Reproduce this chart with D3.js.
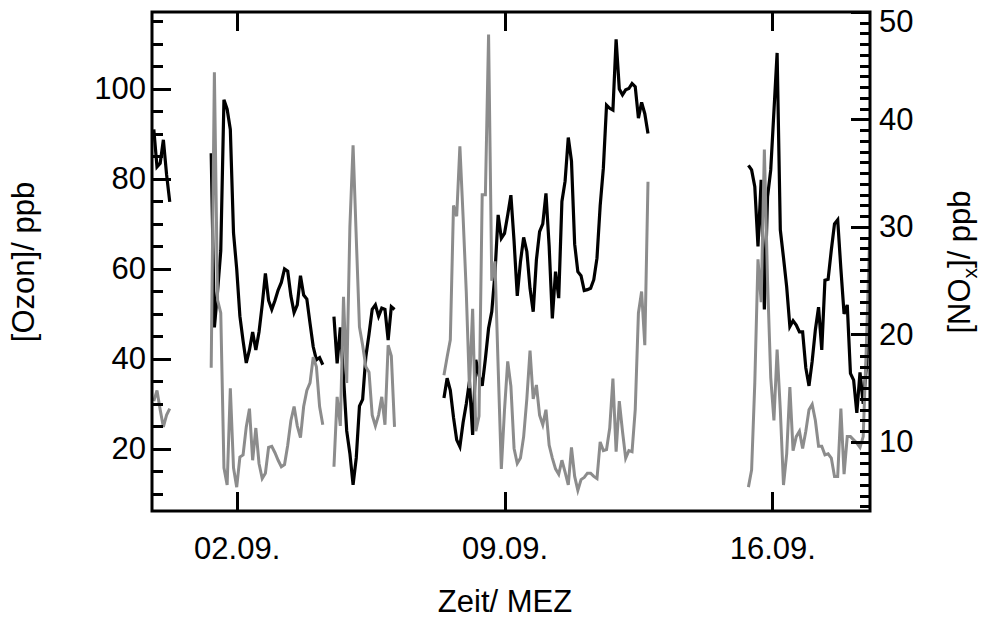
<!DOCTYPE html>
<html>
<head>
<meta charset="utf-8">
<script src="https://cdn.jsdelivr.net/npm/d3@7"></script>
<style>
body { margin: 0; background: #fff; }
</style>
</head>
<body>
<div id="chart"></div>
<script>
// 2-hourly values, five measurement blocks with gaps between them
const blockStart = ["2000-08-30T20:00", "2000-09-01T08:00", "2000-09-04T13:00", "2000-09-07T10:00", "2000-09-15T09:00"];
const stepHours = 2;

// ozone in ppb (left axis)
const ozone = [
    [91, 82.7, 83.5, 88.7, 81, 74.9],
    [85.7, 47, 55, 64, 97.6, 95.5, 91, 68, 60, 49.5, 44, 39.1, 42, 46, 42, 46, 52, 59, 53, 51,
     53, 55.3, 57, 60, 59.5, 54, 50.3, 52, 58.5, 54.2, 53.3, 47.9, 42.7, 39.8, 40.3, 38.7],
    [49.4, 39, 47, 36, 24, 19, 12, 18, 29.5, 31, 40.5, 45.5, 51, 52, 49.5, 51.3, 51, 44.2, 51.6, 51],
    [31.3, 35.7, 33, 27, 22, 20.5, 25.8, 30, 35, 23.1, 39.8, 36.4, 34, 40, 46.8, 50.5, 59, 72, 66.8, 67.9,
     72, 76.4, 66.1, 54, 61.6, 67, 63.9, 55.7, 50.5, 62, 68.3, 70, 76.8, 65, 49, 59.4, 53.5, 75, 79.5, 89.2,
     84, 65.5, 59.4, 58.5, 55.2, 55.4, 55.7, 57.6, 62.4, 74, 82.4, 96.4, 95.7, 95.3, 111, 100, 98.7, 99.8, 100.1, 101.2,
     100.5, 93.5, 97, 94.5, 90.1],
    [83, 82, 78.3, 65, 79.8, 51, 76, 82, 95, 108, 68.7, 62.5, 56, 47.2, 48.5, 47.5, 46, 46, 38, 34,
     39.5, 46.5, 51.5, 42, 57.5, 57.7, 64.2, 70, 70.9, 60, 50, 52, 36.8, 35.3, 28, 37, 30, 38.3, 55.3]
];

// NOx in ppb (right axis)
const nox = [
    [13.8, 14.8, 13, 11.4, 12.5, 13.1],
    [16.9, 44.4, 23.2, 22, 7.6, 6, 15, 7.6, 5.8, 8.6, 8.8, 11.4, 13.1, 8.3, 11.3, 8, 6.6, 7.1, 9.5, 9.6,
     9, 8.3, 7.7, 7.9, 9.7, 12, 13.3, 11.5, 10.4, 13.3, 14.8, 15.5, 17.9, 17, 13.3, 11.6],
    [7.7, 14.2, 11.5, 23.5, 15.5, 30, 37.6, 29, 20.7, 19, 17, 16.5, 12.5, 11.5, 12.5, 14.2, 11.6, 19, 18, 11.4],
    [16.2, 17.9, 19.5, 32, 31, 37.5, 31, 24, 15, 22.4, 11, 12.4, 33, 33, 47.9, 25, 26.8, 17, 7.5, 13,
     17.5, 15.2, 9.4, 8, 8.5, 10.5, 14, 18.5, 14, 15.3, 12.5, 11.6, 13, 9.7, 8.5, 7.5, 7, 8.3, 7.2, 6,
     9.5, 6.8, 5.5, 6.5, 6.7, 7.1, 7.1, 6.8, 6.6, 10, 9.2, 9.3, 11.3, 15.9, 9.1, 13.8, 11, 8.5, 9.2, 9.1,
     13, 22, 24, 19, 34.2],
    [5.8, 7.4, 15.5, 27, 23, 37.2, 25, 16, 12, 18.6, 13, 6, 8.9, 15.1, 9.2, 10.5, 11, 9.4, 11, 13,
     13.5, 12, 9.6, 9.6, 8.8, 8.9, 8.5, 6.8, 6.8, 13.1, 7, 10.5, 10.5, 10.2, 9.9, 9.5, 10.5, 19, 28.8]
];

const timeRange = ["2000-08-30T18:52", "2000-09-18T13:16"];
const dateTicks = ["2000-09-02T00:00", "2000-09-09T00:00", "2000-09-16T00:00"];
const ozoneTicks = [20, 40, 60, 80, 100];
const ozoneMinor = d3.range(10, 116, 5);
const noxTicks = [10, 20, 30, 40, 50];
const noxMinor = d3.range(4, 51, 1);

const font = "'Liberation Sans', Arial, sans-serif";
const grey = "#8c8c8c";

var dimension = {
    width: 981,
    height: 619,
    margin: { top: 12, left: 152, bottom: 108, right: 111 }
};
dimension.boundedWidth = dimension.width - dimension.margin.left - dimension.margin.right
dimension.boundedHeight = dimension.height - dimension.margin.top - dimension.margin.bottom
const W = dimension.boundedWidth, H = dimension.boundedHeight;

const parse = d3.timeParse("%Y-%m-%dT%H:%M");

const wrapper = d3.select("#chart")
    .append("svg")
    .attr("width", dimension.width)
    .attr("height", dimension.height);

const bounds = wrapper.append("g")
    .attr("transform", `translate(${dimension.margin.left},${dimension.margin.top})`);

const xScaler = d3.scaleTime()
    .domain(timeRange.map(parse))
    .range([0, W]);

const yOzone = d3.scaleLinear()
    .domain([6.2, 117.1])
    .range([H, 0]);

const yNox = d3.scaleLinear()
    .domain([3.58, 50])
    .range([H, 0]);

bounds.append("clipPath").attr("id", "plotclip")
    .append("rect")
    .attr("width", W)
    .attr("height", H);

// series -> points
function toPoints(values, start) {
    const t0 = parse(start);
    return values.map((v, i) => ({ t: d3.timeHour.offset(t0, i * stepHours), v: v }));
}

const ozoneLine = d3.line().x(d => xScaler(d.t)).y(d => yOzone(d.v));
const noxLine = d3.line().x(d => xScaler(d.t)).y(d => yNox(d.v));

const plot = bounds.append("g").attr("clip-path", "url(#plotclip)");

plot.selectAll(".ozone")
    .data(ozone.map((vals, i) => toPoints(vals, blockStart[i])))
    .enter()
    .append("path")
    .attr("class", "ozone")
    .attr("d", ozoneLine)
    .attr("fill", "none")
    .attr("stroke", "black")
    .attr("stroke-width", 3.2);

plot.selectAll(".nox")
    .data(nox.map((vals, i) => toPoints(vals, blockStart[i])))
    .enter()
    .append("path")
    .attr("class", "nox")
    .attr("d", noxLine)
    .attr("fill", "none")
    .attr("stroke", grey)
    .attr("stroke-width", 3);

// inward tick marks, snapped to whole pixels
const tickW = 3;
function hTicks(values, scale, x0, len) {
    bounds.append("g")
        .selectAll("rect")
        .data(values)
        .enter()
        .append("rect")
        .attr("x", len > 0 ? x0 : x0 + len)
        .attr("y", d => Math.round(scale(d)) - 1)
        .attr("width", Math.abs(len))
        .attr("height", tickW)
        .attr("fill", "#000")
        .attr("shape-rendering", "crispEdges");
}
function vTicks(values, y0, len) {
    bounds.append("g")
        .selectAll("rect")
        .data(values)
        .enter()
        .append("rect")
        .attr("x", d => Math.round(xScaler(d)) - 1)
        .attr("y", len > 0 ? y0 : y0 + len)
        .attr("width", tickW)
        .attr("height", Math.abs(len))
        .attr("fill", "#000")
        .attr("shape-rendering", "crispEdges");
}

hTicks(ozoneMinor, yOzone, 0, 11);
hTicks(ozoneTicks, yOzone, 0, 19);
hTicks(noxMinor, yNox, W, -10);
hTicks(noxTicks, yNox, W, -19);
vTicks(dateTicks.map(parse), 0, 19);
vTicks(dateTicks.map(parse), H, -19);

// tick labels from d3 axes
function styleAxis(g) {
    g.select(".domain").remove();
    g.selectAll(".tick line").remove();
    g.attr("font-size", 31).attr("font-family", font);
    g.selectAll(".tick text").attr("fill", "black");
}

bounds.append("g")
    .call(d3.axisLeft(yOzone).tickValues(ozoneTicks).tickSize(0).tickPadding(6))
    .call(styleAxis);

const noxAxis = bounds.append("g")
    .attr("transform", `translate(${W},0)`)
    .call(d3.axisRight(yNox).tickValues(noxTicks).tickSize(0).tickPadding(9))
    .call(styleAxis);
// top label sits inside the frame
noxAxis.selectAll(".tick text").filter(d => d === 50).attr("dy", "0.62em");

bounds.append("g")
    .attr("transform", `translate(0,${H})`)
    .call(d3.axisBottom(xScaler).tickValues(dateTicks.map(parse)).tickSize(0).tickPadding(26)
        .tickFormat(d3.timeFormat("%d.%m.")))
    .call(styleAxis);

bounds.append("rect")
    .attr("width", W)
    .attr("height", H)
    .attr("fill", "none")
    .attr("stroke", "black")
    .attr("stroke-width", 3);

// titles
wrapper.append("text")
    .attr("x", 505)
    .attr("y", 612)
    .attr("text-anchor", "middle")
    .attr("font-family", font)
    .attr("font-size", 31)
    .text("Zeit/ MEZ");

wrapper.append("text")
    .attr("transform", "translate(34,262)rotate(-90)")
    .attr("text-anchor", "middle")
    .attr("font-family", font)
    .attr("font-size", 31)
    .text("[Ozon]/ ppb");

const noxTitle = wrapper.append("text")
    .attr("transform", "translate(970,262)rotate(-90)")
    .attr("text-anchor", "middle")
    .attr("font-family", font)
    .attr("font-size", 31);
noxTitle.append("tspan").text("[NO");
noxTitle.append("tspan").attr("font-size", 21).attr("dy", 7).text("x");
noxTitle.append("tspan").attr("dy", -7).text("]/ ppb");
</script>
</body>
</html>
